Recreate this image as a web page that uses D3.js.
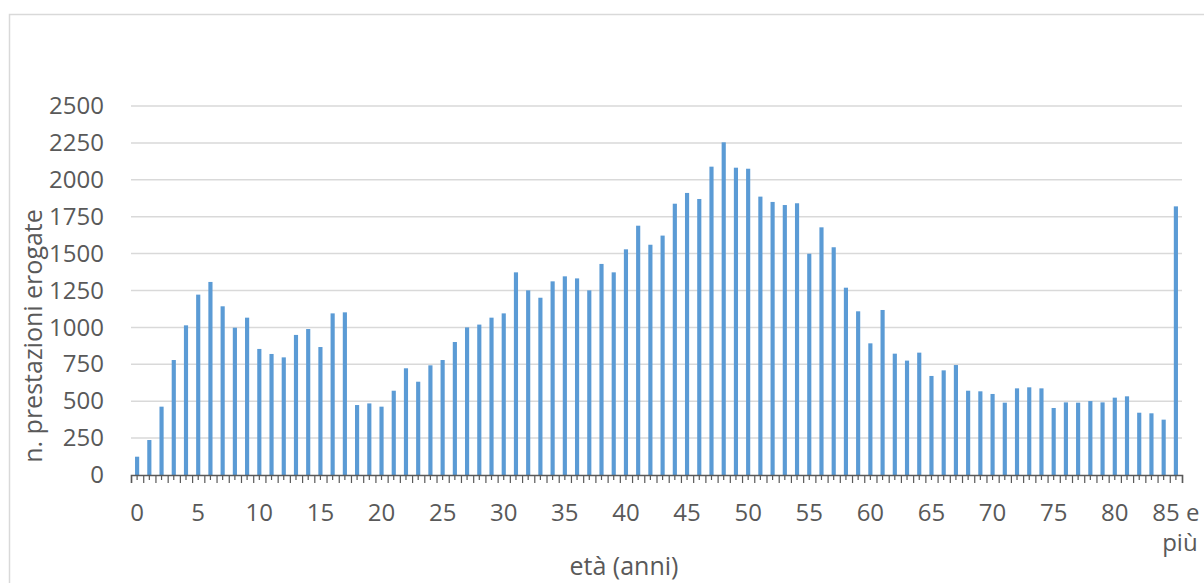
<!DOCTYPE html>
<html>
<head>
<meta charset="utf-8">
<script src="https://cdn.jsdelivr.net/npm/d3@7"></script>
<style>
    body { margin: 0; background: #fff; }
    svg { display: block; font-family: "Open Sans", sans-serif; }
</style>
</head>
<body>
<svg width="1204" height="583"></svg>
<script>
// età: 0..84 + "85 e più"
const ages = d3.range(85).map(String).concat(["85 e più"]);
const prestazioni = [
    124, 237, 463, 779, 1014, 1222, 1308, 1143, 998, 1066,
    854, 820, 797, 949, 989, 867, 1095, 1102, 474, 485,
    463, 571, 723, 632, 743, 779, 901, 1000, 1019, 1066,
    1095, 1373, 1251, 1201, 1312, 1346, 1332, 1251, 1430, 1373,
    1529, 1689, 1560, 1622, 1838, 1911, 1870, 2089, 2254, 2082,
    2075, 1886, 1850, 1829, 1841, 1499, 1678, 1543, 1269, 1109,
    892, 1118, 822, 775, 829, 671, 709, 745, 571, 567,
    549, 490, 587, 594, 587, 454, 492, 490, 501, 492,
    524, 533, 422, 418, 375, 1820
];
const yTicks = [0, 250, 500, 750, 1000, 1250, 1500, 1750, 2000, 2250, 2500];
const xLabelEvery = 5;

const textColor = "#595959";
const svg = d3.select("svg");

// chart area border
svg.append("rect")
    .attr("x", 9.5).attr("y", 14.5)
    .attr("width", 1300).attr("height", 700)
    .attr("fill", "none")
    .attr("stroke", "#d9d9d9")
    .attr("stroke-width", 1.5);

const plotLeft = 131, plotRight = 1182, plotTop = 106, plotBottom = 475;

const x = d3.scaleBand().domain(ages).range([plotLeft, plotRight]).paddingInner(0.66).paddingOuter(0.33);
const xEdge = d3.scaleLinear().domain([0, ages.length]).range([plotLeft, plotRight]);
const y = d3.scaleLinear().domain([0, 2500]).range([plotBottom, plotTop]);

// gridlines
svg.append("g")
    .selectAll("line")
    .data(yTicks.slice(1))
    .join("line")
    .attr("x1", plotLeft).attr("x2", plotRight)
    .attr("y1", d => y(d)).attr("y2", d => y(d))
    .attr("stroke", "#d9d9d9")
    .attr("stroke-width", 1.5);

// y axis labels
const yAxis = svg.append("g")
    .attr("transform", `translate(${plotLeft},0)`)
    .call(d3.axisLeft(y).tickValues(yTicks).tickSize(0).tickPadding(27).tickFormat(d3.format("d")));
yAxis.select(".domain").remove();
yAxis.selectAll("text")
    .attr("fill", textColor)
    .style("font-size", "24px")
    .style("font-family", "'Open Sans', sans-serif");

// bars
svg.append("g")
    .attr("fill", "#5b9bd5")
    .selectAll("rect")
    .data(prestazioni)
    .join("rect")
    .attr("x", (d, i) => x(ages[i]))
    .attr("width", x.bandwidth())
    .attr("y", d => y(d))
    .attr("height", d => plotBottom - y(d));

// x axis: long ticks at category boundaries
const edgeAxis = svg.append("g")
    .attr("transform", `translate(0,${plotBottom})`)
    .call(d3.axisBottom(xEdge).tickValues(d3.range(ages.length + 1)).tickSize(8).tickFormat(""));
edgeAxis.select(".domain").attr("stroke", "#595959").attr("stroke-width", 1.5);
edgeAxis.selectAll(".tick line").attr("stroke", "#595959").attr("stroke-width", 1.2);

// short ticks at category centers + labels
const xAxis = svg.append("g")
    .attr("transform", `translate(0,${plotBottom})`)
    .call(d3.axisBottom(x).tickSize(5).tickPadding(24)
        .tickFormat((d, i) => i % xLabelEvery === 0 ? d : ""));
xAxis.select(".domain").remove();
xAxis.selectAll(".tick line").attr("stroke", "#595959").attr("stroke-width", 1.2);
xAxis.selectAll("text")
    .attr("fill", textColor)
    .style("font-size", "24px")
    .style("font-family", "'Open Sans', sans-serif")
    .each(function(d) {
        if (d === "85 e più") {
            const t = d3.select(this).text("");
            t.append("tspan").attr("x", 0).text("85 e");
            t.append("tspan").attr("x", 4).attr("dy", "1.25em").text("più");
        }
    });

// axis titles
svg.append("text")
    .attr("transform", "translate(42,336) rotate(-90)")
    .attr("text-anchor", "middle")
    .attr("fill", textColor)
    .style("font-size", "25px")
    .text("n. prestazioni erogate");

svg.append("text")
    .attr("x", 624)
    .attr("y", 575)
    .attr("text-anchor", "middle")
    .attr("fill", textColor)
    .style("font-size", "25px")
    .text("età (anni)");
</script>
</body>
</html>
